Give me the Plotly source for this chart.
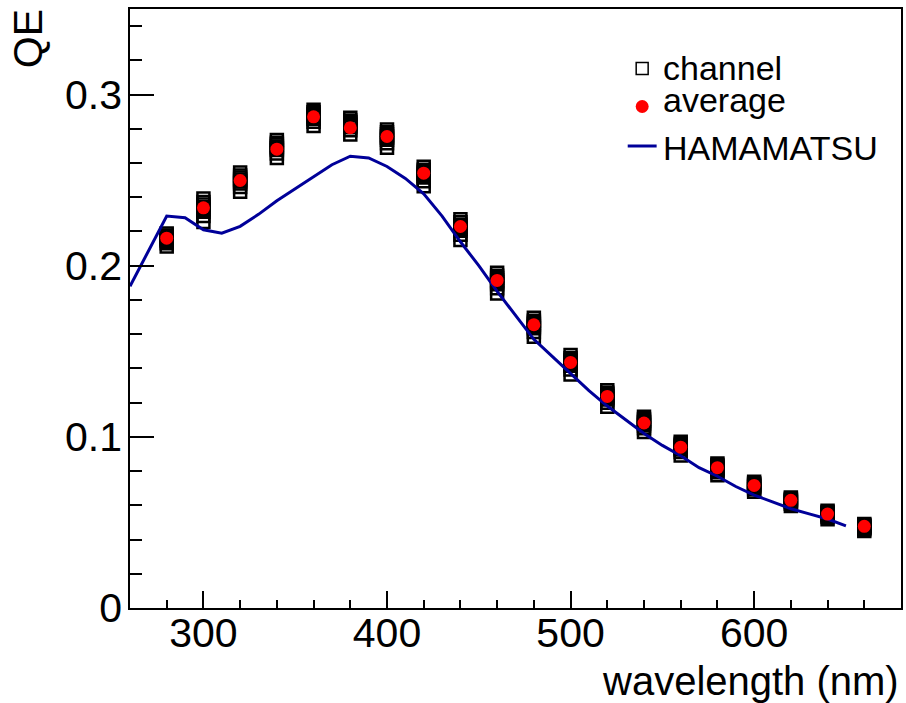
import plotly.graph_objects as go

# ---------------- data ----------------
wavelength = [280, 300, 320, 340, 360, 380, 400, 420, 440, 460,
              480, 500, 520, 540, 560, 580, 600, 620, 640, 660]

# individual channels (8 read per wavelength, highest to lowest)
channel_1 = [0.2188, 0.2393, 0.2544, 0.2735, 0.2911, 0.2864, 0.2796, 0.2578, 0.2272, 0.1959,
             0.1696, 0.1478, 0.1273, 0.1117, 0.0971, 0.0845, 0.0738, 0.0646, 0.0568, 0.0491]
channel_2 = [0.2177, 0.2372, 0.2527, 0.2719, 0.2897, 0.2849, 0.2780, 0.2561, 0.2254, 0.1941,
             0.1679, 0.1461, 0.1258, 0.1104, 0.0959, 0.0835, 0.0729, 0.0639, 0.0561, 0.0485]
channel_3 = [0.2168, 0.2357, 0.2515, 0.2708, 0.2887, 0.2839, 0.2768, 0.2549, 0.2240, 0.1928,
             0.1667, 0.1449, 0.1248, 0.1094, 0.0950, 0.0827, 0.0723, 0.0633, 0.0555, 0.0480]
channel_4 = [0.2161, 0.2343, 0.2504, 0.2697, 0.2877, 0.2829, 0.2757, 0.2537, 0.2228, 0.1915,
             0.1656, 0.1437, 0.1238, 0.1085, 0.0942, 0.0820, 0.0717, 0.0628, 0.0550, 0.0476]
channel_5 = [0.2153, 0.2330, 0.2492, 0.2687, 0.2868, 0.2819, 0.2747, 0.2526, 0.2216, 0.1903,
             0.1645, 0.1426, 0.1228, 0.1076, 0.0934, 0.0813, 0.0711, 0.0623, 0.0545, 0.0472]
channel_6 = [0.2145, 0.2316, 0.2481, 0.2676, 0.2858, 0.2809, 0.2736, 0.2515, 0.2204, 0.1891,
             0.1634, 0.1415, 0.1219, 0.1067, 0.0926, 0.0806, 0.0705, 0.0618, 0.0540, 0.0468]
channel_7 = [0.2131, 0.2290, 0.2460, 0.2656, 0.2841, 0.2791, 0.2716, 0.2493, 0.2181, 0.1868,
             0.1613, 0.1393, 0.1200, 0.1050, 0.0911, 0.0793, 0.0694, 0.0609, 0.0531, 0.0460]
channel_8 = [0.2112, 0.2255, 0.2432, 0.2630, 0.2817, 0.2766, 0.2689, 0.2465, 0.2150, 0.1838,
             0.1585, 0.1365, 0.1176, 0.1028, 0.0891, 0.0775, 0.0679, 0.0596, 0.0518, 0.0450]
channels = [channel_1, channel_2, channel_3, channel_4,
            channel_5, channel_6, channel_7, channel_8]

average_qe = [0.2161, 0.2338, 0.2498, 0.2681, 0.2870, 0.2806, 0.2755, 0.2541, 0.2229, 0.1914,
              0.1655, 0.1435, 0.1236, 0.1081, 0.0940, 0.0820, 0.0716, 0.0629, 0.0549, 0.0477]

hama_wavelength = [260, 280, 290, 300, 310, 320, 330, 340, 350, 360, 370, 380, 390, 400,
                   410, 420, 430, 440, 450, 460, 470, 480, 490, 500, 510, 520, 530, 540,
                   550, 560, 570, 580, 590, 600, 610, 620, 630, 640, 650]
hama_qe = [0.188, 0.229, 0.228, 0.221, 0.219, 0.223, 0.230, 0.238, 0.245, 0.252, 0.259,
           0.264, 0.263, 0.258, 0.251, 0.242, 0.229, 0.214, 0.200, 0.185, 0.171, 0.157,
           0.147, 0.137, 0.127, 0.118, 0.110, 0.102, 0.095, 0.089, 0.082, 0.077, 0.071,
           0.066, 0.062, 0.058, 0.055, 0.052, 0.048]

x_range = [260, 680]
y_range = [0, 0.35]
x_ticks = [300, 400, 500, 600]
y_ticks = [0, 0.1, 0.2, 0.3]
y_ticktext = ["0", "0.1", "0.2", "0.3"]

# ---------------- figure ----------------
# the page body margin is removed (post_script), so the figure fills the window
W, H = 906, 703
ML, MR, MT, MB = 130, 3, 9, 95
PW, PH = W - ML - MR, H - MT - MB
FONT = "Liberation Sans, Arial, Helvetica, sans-serif"
NAVY = "#000099"


def px(x):
    """window x pixel -> paper x"""
    return (x - ML) / PW


def py(y):
    """window y pixel -> paper y"""
    return (H - MB - y) / PH


fig = go.Figure()

for ch in channels:
    fig.add_trace(go.Scatter(
        x=wavelength, y=ch, mode="markers", showlegend=False,
        marker=dict(symbol="square-open", size=12, color="black",
                    line=dict(color="black", width=2.5)),
        hoverinfo="skip"))

fig.add_trace(go.Scatter(
    x=hama_wavelength, y=hama_qe, mode="lines", showlegend=False,
    line=dict(color=NAVY, width=3)))

fig.add_trace(go.Scatter(
    x=wavelength, y=average_qe, mode="markers", showlegend=False,
    marker=dict(symbol="circle", size=13, color="#ff0000", line=dict(width=0))))

axis_common = dict(
    showline=True, mirror=True, linecolor="black", linewidth=1.5,
    ticks="inside", tickcolor="black", tickwidth=1.5,
    showgrid=False, zeroline=False,
    tickfont=dict(family=FONT, size=41, color="black"),
)

fig.update_xaxes(range=x_range, tickvals=x_ticks, ticklen=17, ticklabelstandoff=-12,
                 minor=dict(dtick=20, tick0=0, ticks="inside", ticklen=8,
                            tickcolor="black", tickwidth=1.5, showgrid=False),
                 **axis_common)
fig.update_yaxes(range=y_range, tickvals=y_ticks, ticktext=y_ticktext, ticklen=24,
                 ticklabelstandoff=-2,
                 minor=dict(dtick=0.02, tick0=0, ticks="inside", ticklen=12,
                            tickcolor="black", tickwidth=1.5, showgrid=False),
                 **axis_common)

# axis titles (ROOT style, aligned to the ends)
fig.add_annotation(text="wavelength (nm)", xref="paper", yref="paper",
                   x=1.0, y=py(681), xanchor="right", yanchor="middle",
                   showarrow=False, font=dict(family=FONT, size=40, color="black"))
fig.add_annotation(text="QE", xref="paper", yref="paper", textangle=-90,
                   x=px(28), y=py(39), xanchor="center", yanchor="middle",
                   showarrow=False, font=dict(family=FONT, size=41, color="black"))

# legend (drawn manually, borderless like the reference)
fig.add_shape(type="rect", xref="paper", yref="paper",
              x0=px(637.5), x1=px(649.5), y0=py(74.5), y1=py(62.5),
              line=dict(color="black", width=1.5), fillcolor="rgba(0,0,0,0)")
fig.add_shape(type="circle", xref="paper", yref="paper",
              x0=px(637), x1=px(650), y0=py(113), y1=py(100),
              line=dict(width=0), fillcolor="#ff0000")
fig.add_shape(type="line", xref="paper", yref="paper",
              x0=px(629), x1=px(658), y0=py(146), y1=py(146),
              line=dict(color=NAVY, width=3))
for label, yc in [("channel", 68), ("average", 100), ("HAMAMATSU", 148)]:
    fig.add_annotation(text=label, xref="paper", yref="paper",
                       x=px(662), y=py(yc), xanchor="left", yanchor="middle",
                       showarrow=False, font=dict(family=FONT, size=34, color="black"))

fig.update_layout(
    width=W, height=H,
    margin=dict(l=ML, r=MR, t=MT, b=MB),
    paper_bgcolor="white", plot_bgcolor="white",
    showlegend=False,
)

fig.write_html("out.html",
               config={"displayModeBar": False},
               post_script="document.body.style.margin='0px';"
                           "document.body.style.overflow='hidden';")
